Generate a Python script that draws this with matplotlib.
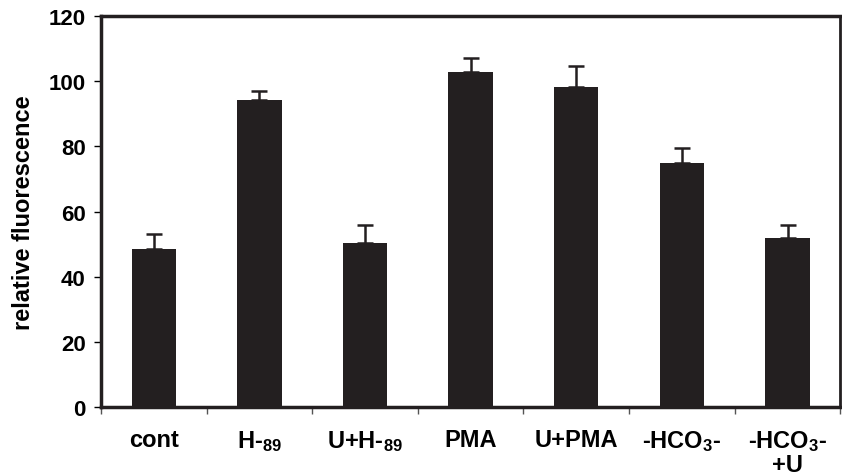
import matplotlib.pyplot as plt
import numpy as np

plt.rcParams['font.family'] = ['Liberation Sans', 'DejaVu Sans']
plt.rcParams['font.weight'] = 'bold'
plt.rcParams['mathtext.fontset'] = 'custom'
plt.rcParams['mathtext.rm'] = 'Liberation Sans:bold'
plt.rcParams['mathtext.it'] = 'Liberation Sans:bold'
plt.rcParams['mathtext.bf'] = 'Liberation Sans:bold'

labels = ["cont", "H-$_{89}$", "U+H-$_{89}$", "PMA", "U+PMA",
          "-HCO$_{3}$-", "-HCO$_{3}$-\n+U"]
values = [48.5, 94.3, 50.2, 103.0, 98.3, 74.8, 51.9]
errors = [4.6, 2.8, 5.8, 4.0, 6.4, 4.6, 4.0]

ink = "#231f20"

fig = plt.figure(figsize=(8.42, 4.77), dpi=100)
ax = fig.add_axes([0.12, 0.145, 0.878, 0.819])

x = np.arange(len(labels))
ax.bar(x, values, width=0.42, color=ink, zorder=2)
ax.errorbar(x, values, yerr=[np.zeros(len(errors)), errors], fmt="none",
            ecolor=ink, elinewidth=1.8, capsize=6, capthick=1.8, zorder=1)

ax.set_xlim(-0.5, len(labels) - 0.5)
ax.set_ylim(0, 120)
ax.set_yticks(range(0, 121, 20))
ax.set_xticks(x)
ax.set_xticklabels(labels, fontsize=17, fontweight="bold", linespacing=1.0)
ax.set_xticks(np.arange(-0.5, len(labels), 1), minor=True)
ax.tick_params(axis="x", which="major", length=0, pad=15)
ax.tick_params(axis="x", which="minor", length=5, width=1, color="#555555")
ax.tick_params(axis="y", length=5, width=1, labelsize=16, pad=6)
for t in ax.get_yticklabels():
    t.set_fontweight("bold")
for t in ax.get_xticklabels():
    t.set_verticalalignment("top")

ax.set_ylabel("relative fluorescence", fontsize=17, fontweight="bold", labelpad=10)

for side in ["left", "bottom", "top"]:
    ax.spines[side].set_linewidth(2.5)
    ax.spines[side].set_color(ink)
ax.spines["right"].set_linewidth(2)
ax.spines["right"].set_color(ink)

fig.savefig("out.png", dpi=100)
